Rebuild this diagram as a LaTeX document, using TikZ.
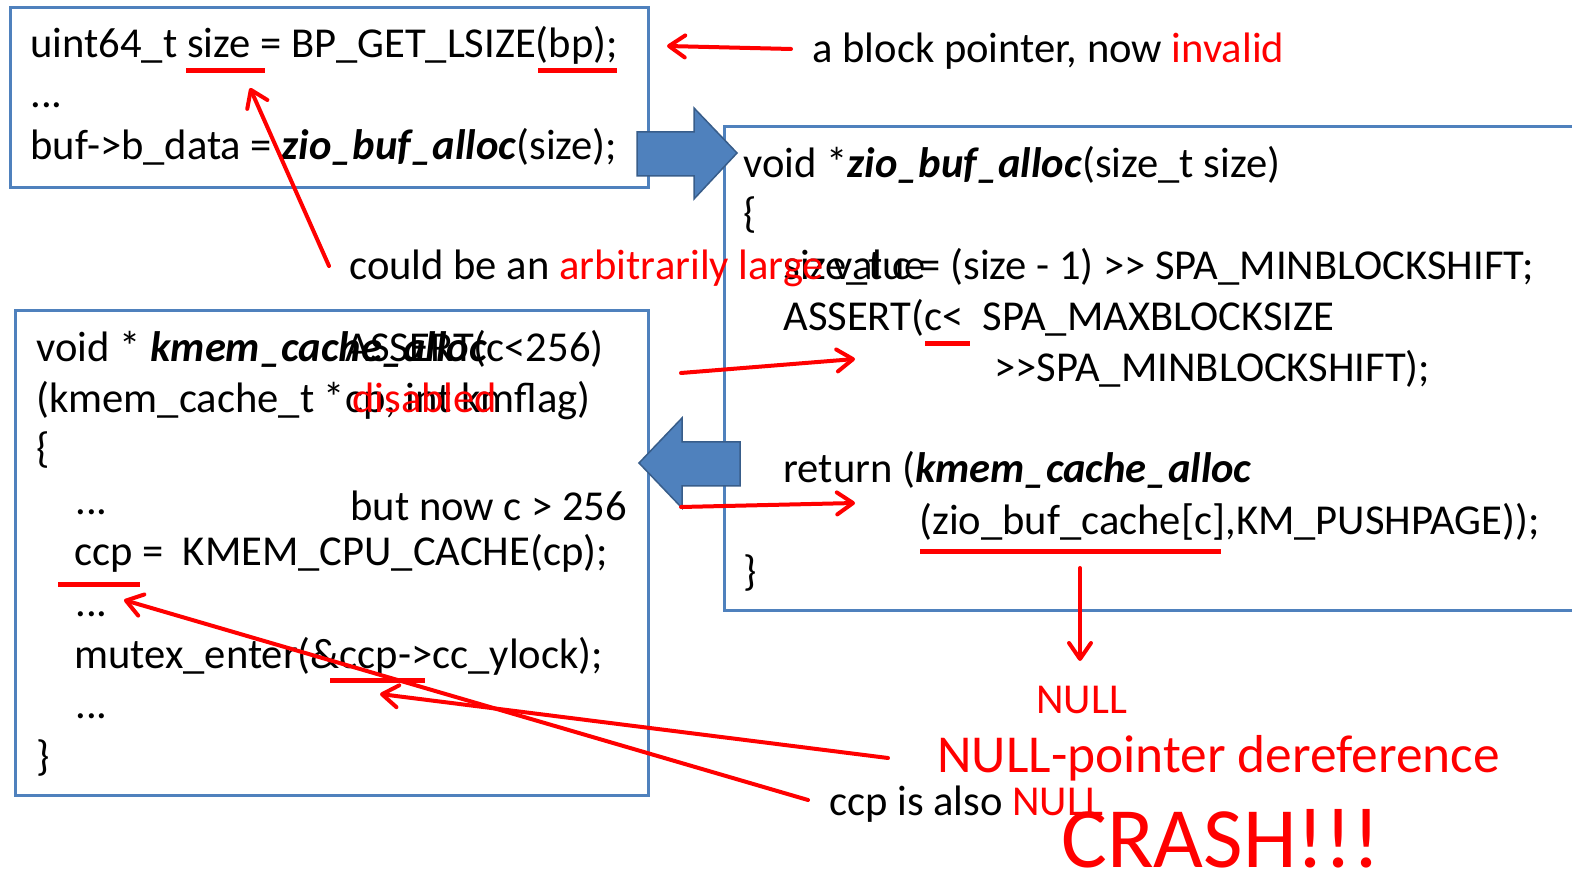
\documentclass[tikz,border=0pt]{standalone}
\usepackage{fontspec}
\setmainfont{Carlito}[Ligatures=TeXOff]
\usetikzlibrary{arrows.meta}
\definecolor{boxblue}{HTML}{4F81BD}
\definecolor{arrowedge}{HTML}{385D8A}
\definecolor{alertred}{HTML}{FF0000}
\newcommand{\fnname}[1]{\textbf{\textit{#1}}}
\newcommand{\hot}[1]{\textcolor{alertred}{#1}}

\begin{document}
\begin{tikzpicture}[x=0.5pt,y=-0.5pt,
  codebox/.style={draw=boxblue, line width=1.5pt, fill=white},
  blockarrow/.style={fill=boxblue, draw=arrowedge, line width=0.75pt, line join=miter},
  code/.style={anchor=base west, inner sep=0pt, font=\fontsize{21.3}{25}\selectfont},
  codeend/.style={anchor=base east, inner sep=0pt, font=\fontsize{21.3}{25}\selectfont},
  redline/.style={draw=alertred, line width=2pt, line cap=round,
    -{Straight Barb[round, length=8pt, width=11pt]}},
  underl/.style={draw=alertred, line width=2.5pt},
  redtext/.style={anchor=base west, inner sep=0pt, text=alertred}
]
\useasboundingbox (0,0) rectangle (1572,870);
\clip (0,0) rectangle (1572,870);

% the three code frames
\draw[codebox] (10,8) rectangle (648,188);
\draw[codebox] (724,127) rectangle (1590,610);
\draw[codebox] (15,311) rectangle (648,795);

% call / return block arrows
\draw[blockarrow] (637,132) -- (694,132) -- (694,108) -- (737,153)
  -- (694,199) -- (694,176) -- (637,176) -- cycle;
\draw[blockarrow] (740,442) -- (682,442) -- (682,418) -- (639,463)
  -- (682,508) -- (682,486) -- (740,486) -- cycle;

% caller
\node[code] (c1) at (30,58) {uint64\_t size = BP\_GET\_LSIZE(bp);};
\node[code] (c2) at (30,108) {...};
\node[code] (c3) at (30,160) {buf->b\_data = \fnname{zio\_buf\_alloc}(size);};

% zio_buf_alloc
\node[code] (z1) at (743,178) {void *\fnname{zio\_buf\_alloc}(size\_t size)};
\node[code] (z2) at (743,228) {\{};
\node[code] (z3) at (783,280) {size\_t c = (size - 1) >> SPA\_MINBLOCKSHIFT;};
\node[code] (z4) at (783,331) {ASSERT(c<\ \ SPA\_MAXBLOCKSIZE};
\node[code] (z5) at (994,382) {>>SPA\_MINBLOCKSHIFT);};
\node[code] (z6) at (783,483) {return (\fnname{kmem\_cache\_alloc}};
\node[code] (z7) at (919,535) {(zio\_buf\_cache[c],KM\_PUSHPAGE));};
\node[code] (z8) at (743,586) {\}};

% kmem_cache_alloc
\node[code] (k1) at (36,362) {void * \fnname{kmem\_cache\_alloc}};
\node[code] (k2) at (36,413) {(kmem\_cache\_t *cp, int kmflag)};
\node[code] (k3) at (36,463) {\{};
\node[code] (k4) at (75,515) {...};
\node[code] (k5) at (74,566) {ccp =\ \ KMEM\_CPU\_CACHE(cp);};
\node[code] (k6) at (75,617) {...};
\node[code] (k7) at (74,668) {mutex\_enter(\&ccp->cc\_ylock);};
\node[code] (k8) at (75,718) {...};
\node[code] (k9) at (36,770) {\}};

% annotations
\node[code] (ptr) at (812,63) {a block pointer, now \hot{invalid}};
\node[code] (big) at (349,280) {could be an \hot{arbitrarily large} value};
\node[codeend] (asrt) at (604,362) {ASSERT(c<256)};
\node[code, text=alertred] (dis) at (352,413) {disabled};
\node[code] (now) at (350,521) {but now c > 256};
\node[code] (also) at (829,815) {ccp is also \hot{NULL}};
\node[redtext, font=\fontsize{21.3}{25}\selectfont] (nul) at (1036,713) {NULL};
\node[redtext, font=\fontsize{26.7}{30}\selectfont] (deref) at (937,772) {NULL-pointer dereference};
\node[redtext, font=\fontsize{43}{48}\selectfont] (crash) at (1061,867) {CRASH!!!};

% underlined operands
\draw[underl] (186,71) -- (265,71);
\draw[underl] (538,71) -- (617,71);
\draw[underl] (925,344) -- (970,344);
\draw[underl] (920,552) -- (1221,552);
\draw[underl] (58,584) -- (140,584);
\draw[underl] (330,680) -- (425,680);

% arrow end points
\coordinate (ptrS) at (791,49);
\coordinate (ptrT) at (667,46);
\coordinate (bigS) at (329,266);
\coordinate (bigT) at (250,88);
\coordinate (asS) at (681,373);
\coordinate (asT) at (855,359);
\coordinate (nowS) at (681,507);
\coordinate (nowT) at (855,503);
\coordinate (retS) at (1080,568);
\coordinate (retT) at (1080,661);
\coordinate (drS) at (888,758);
\coordinate (drT) at (380,694);
\coordinate (alS) at (808,800);
\coordinate (alT) at (124,600);

\draw[redline] (ptrS) -- (ptrT);
\draw[redline] (bigS) -- (bigT);
\draw[redline] (asS) -- (asT);
\draw[redline] (nowS) -- (nowT);
\draw[redline] (retS) -- (retT);
\draw[redline] (drS) -- (drT);
\draw[redline] (alS) -- (alT);
\end{tikzpicture}
\end{document}
